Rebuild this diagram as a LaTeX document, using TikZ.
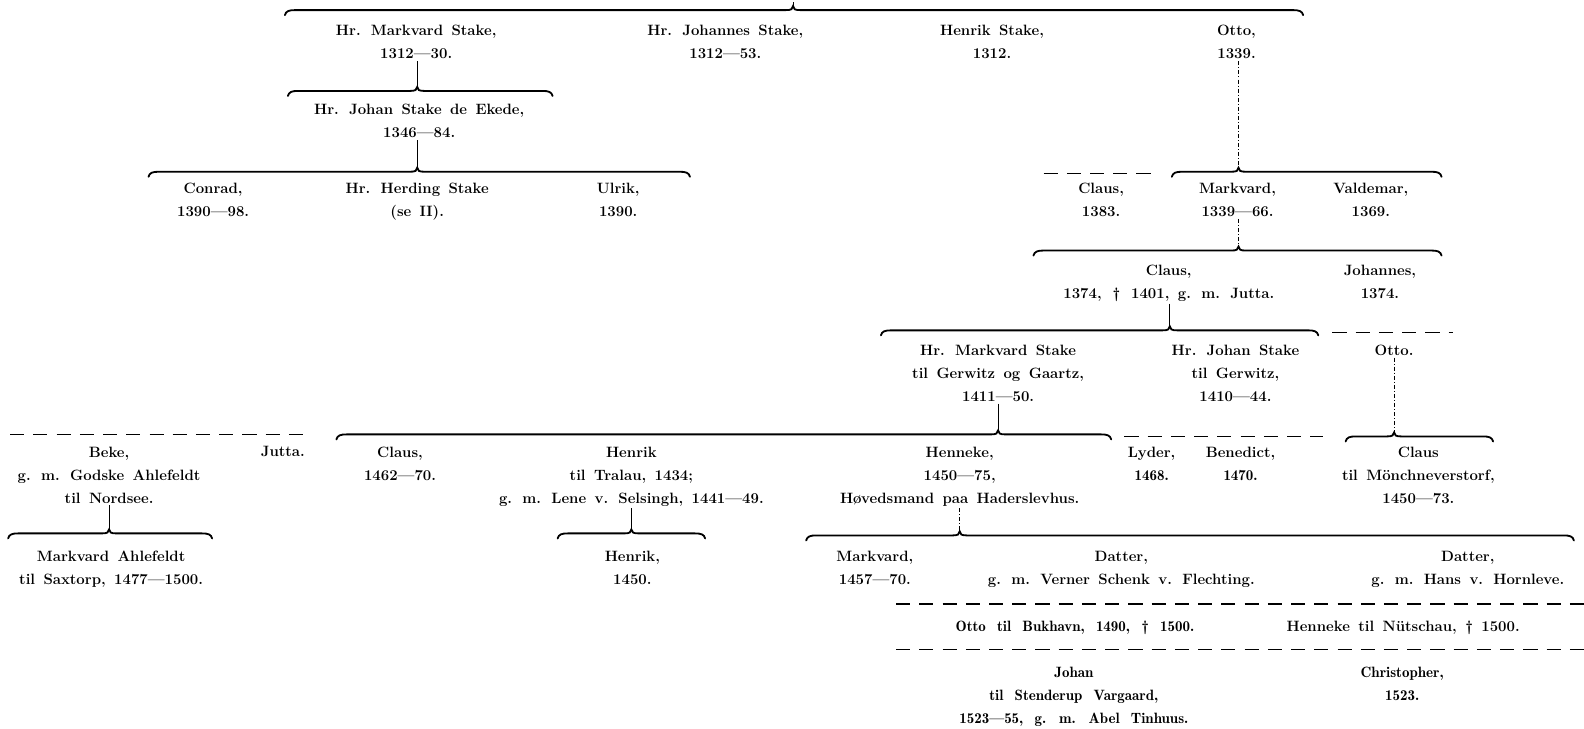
\documentclass[tikz,border=0pt]{standalone}
\usepackage{fontspec}
\setmainfont{Latin Modern Roman}[WordSpace=1.5]
\newfontfamily\demifont{lmromandemi10-regular.otf}[Ligatures=TeX,WordSpace=1.5]
\newcommand{\famBrace}[5]{% name, left x, tip x, right x, y
  \coordinate (#1) at (#3,#5-4);
  \draw[bracestyle] (#2,#5+5) .. controls (#2+1,#5+1) and (#2+4,#5) .. (#2+10,#5) -- (#3-7,#5) .. controls (#3-2,#5) and (#3,#5-1) .. (#3,#5-4) .. controls (#3,#5-1) and (#3+2,#5) .. (#3+7,#5) -- (#4-10,#5) .. controls (#4-4,#5) and (#4-1,#5+1) .. (#4,#5+5);}
\begin{document}
\begin{tikzpicture}[x=1pt,y=-1pt,
  person/.style={align=center,anchor=north,inner sep=0pt,font=\fontsize{14.8}{22.8}\selectfont\bfseries},
  light/.style={person,font=\fontsize{14.8}{22.8}\selectfont\demifont},
  bracestyle/.style={line width=1.8pt,line cap=round},
  kin/.style={line width=0.8pt,shorten <=2pt},
  faint/.style={line width=0.6pt,shorten <=2pt,dash pattern=on 4pt off 2pt on 1pt off 2pt},
  lost/.style={line width=1.3pt,dash pattern=on 14pt off 9pt}]
\useasboundingbox (0,0) rectangle (1568,721);

% ---- generation 1
\coordinate (root) at (785,0);
\famBrace{b1}{282}{785}{1290}{10}
\draw[kin] (root) -- (b1);
\node[person] (mk1) at (412,25) {Hr. Markvard Stake,\\1312---30.};
\node[person] (joh1) at (718,25) {Hr. Johannes Stake,\\1312---53.};
\node[person] (hen1) at (982,25) {Henrik Stake,\\1312.};
\node[person] (otto1) at (1224,25) {Otto,\\1339.};

% ---- left branch
\famBrace{b2}{285}{413}{547}{90}
\draw[kin] (mk1.south -| b2) -- (b2);
\node[person] (johan2) at (415,103) {Hr. Johan Stake de Ekede,\\1346---84.};
\famBrace{b3}{147}{413}{683}{170}
\draw[kin] (johan2.south -| b3) -- (b3);
\node[person] (conrad) at (211,181) {Conrad,\\1390---98.};
\node[person] (herding) at (413,181) {Hr. Herding Stake\\(se II).};
\node[person] (ulrik) at (612,181) {Ulrik,\\1390.};

% ---- Otto's branch
\famBrace{b4}{1160}{1226}{1427}{170}
\draw[faint] (otto1.south -| b4) -- (b4);
\coordinate (d4a) at (1033,172); \coordinate (d4b) at (1148,172);
\draw[lost] (d4a) -- (d4b);
\node[person] (claus4) at (1090,181) {Claus,\\1383.};
\node[person] (markv4) at (1225,181) {Markvard,\\1339---66.};
\node[person] (valdemar) at (1357,181) {Valdemar,\\1369.};

\famBrace{b5}{1023}{1226}{1427}{248}
\draw[faint] (markv4.south -| b5) -- (b5);
\node[person] (claus5) at (1157,262) {Claus,\\1374,\, \textdagger{}\, 1401, g. m. Jutta.};
\node[person] (johannes5) at (1366,262) {Johannes,\\1374.};

\famBrace{b6}{872}{1158}{1305}{327}
\draw[kin] (claus5.south -| b6) -- (b6);
\coordinate (d6a) at (1319,329); \coordinate (d6b) at (1438,329);
\draw[lost] (d6a) -- (d6b);
\node[person] (mk6) at (988,341) {Hr. Markvard Stake\\til Gerwitz og Gaartz,\\1411---50.};
\node[person] (js6) at (1223,341) {Hr. Johan Stake\\til Gerwitz,\\1410---44.};
\node[person] (otto6) at (1380,341) {Otto.};

\famBrace{b7}{333}{988}{1100}{430}
\draw[kin] (mk6.south -| b7) -- (b7);
\coordinate (d7a) at (1113,432); \coordinate (d7b) at (1310,432);
\draw[lost] (d7a) -- (d7b);
\coordinate (d7c) at (10,430); \coordinate (d7d) at (305,430);
\draw[lost] (d7c) -- (d7d);
\famBrace{b8}{1332}{1380}{1478}{432}
\draw[faint] (otto6.south -| b8) -- (b8);

\node[person] (beke) at (108,442) {Beke,\\g. m. Godske Ahlefeldt\\til Nordsee.};
\node[person] (jutta) at (280,442) {Jutta.};
\node[person] (claus7) at (396,442) {Claus,\\1462---70.};
\node[person] (henrik7) at (625,442) {Henrik\\til Tralau, 1434;\\g. m. Lene v. Selsingh, 1441---49.};
\node[person] (henneke7) at (950,442) {Henneke,\\1450---75,\\Høvedsmand paa Haderslevhus.};
\node[person] (lyder) at (1140,442) {Lyder,\\\demifont 1468.};
\node[person] (benedict) at (1228,442) {Benedict,\\\demifont 1470.};
\node[person] (clausM) at (1404,442) {Claus\\til Mönchneverstorf,\\1450---73.};

\famBrace{b9}{8}{108}{210}{528}
\draw[kin] (beke.south -| b9) -- (b9);
\famBrace{b10}{552}{625}{698}{528}
\draw[kin] (henrik7.south -| b10) -- (b10);
\famBrace{b11}{798}{950}{1558}{530}
\draw[faint] (henneke7.south -| b11) -- (b11);

\node[person] (markvA) at (110,545) {Markvard Ahlefeldt\\til Saxtorp, 1477---1500.};
\node[person] (henrik8) at (626,545) {Henrik,\\1450.};
\node[person] (markv8) at (866,545) {Markvard,\\1457---70.};
\node[person] (datter1) at (1110,545) {Datter,\\g. m. Verner Schenk v. Flechting.};
\node[person] (datter2) at (1453,545) {Datter,\\g. m. Hans v. Hornleve.};

\coordinate (d9a) at (887,598); \coordinate (d9b) at (1568,598);
\draw[lost] (d9a) -- (d9b);
\node[light] (otto9) at (1064,615) {Otto til Bukhavn, 1490, \textdagger{} 1500.};
\node[person] (henneke9) at (1389,615) {Henneke til Nütschau, \textdagger{} 1500.};
\coordinate (d10a) at (887,643); \coordinate (d10b) at (1568,643);
\draw[lost] (d10a) -- (d10b);
\node[light] (johan10) at (1063,660) {\bfseries Johan\\til Stenderup Vargaard,\\1523---55, g. m. Abel Tinhuus.};
\node[light] (christopher) at (1388,660) {Christopher,\\1523.};
\end{tikzpicture}
\end{document}
